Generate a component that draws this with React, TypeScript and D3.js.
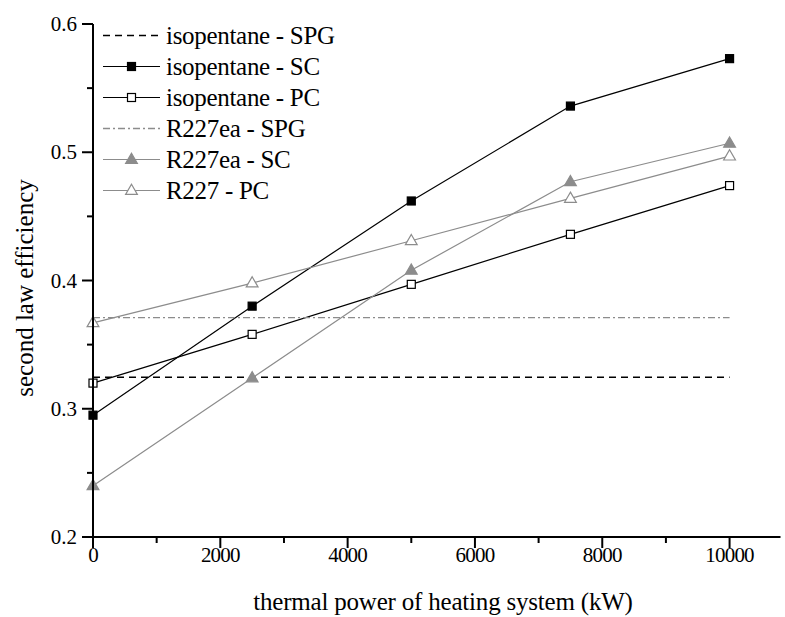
import React, { useEffect, useRef } from "react";
import * as d3 from "d3";

// thermal power of heating system (kW)
const power = [0, 2500, 5000, 7500, 10000];

// second law efficiency
const isoSPG = [0.3245, 0.3245, 0.3245, 0.3245, 0.3245];
const isoSC = [0.295, 0.38, 0.462, 0.536, 0.573];
const isoPC = [0.32, 0.358, 0.397, 0.436, 0.474];
const r227SPG = [0.371, 0.371, 0.371, 0.371, 0.371];
const r227SC = [0.24, 0.324, 0.408, 0.477, 0.507];
const r227PC = [0.367, 0.398, 0.431, 0.464, 0.497];

const xTicks = [0, 2000, 4000, 6000, 8000, 10000];
const xMinor = [1000, 3000, 5000, 7000, 9000];
const yTicks = [0.2, 0.3, 0.4, 0.5, 0.6];
const yMinor = [0.25, 0.35, 0.45, 0.55];

const GRAY = "#8c8c8c";

const series = [
  { name: "isopentane - SPG", values: isoSPG, color: "#000", dash: "7,5", marker: null, fill: null, width: 1.5 },
  { name: "isopentane - SC", values: isoSC, color: "#000", dash: null, marker: "square", fill: "#000", width: 1.2 },
  { name: "isopentane - PC", values: isoPC, color: "#000", dash: null, marker: "square", fill: "#fff", width: 1.2 },
  { name: "R227ea - SPG", values: r227SPG, color: GRAY, dash: "7,3,2,3", marker: null, fill: null, width: 1.3 },
  { name: "R227ea - SC", values: r227SC, color: GRAY, dash: null, marker: "triangle", fill: GRAY, width: 1.2 },
  { name: "R227 - PC", values: r227PC, color: GRAY, dash: null, marker: "triangle", fill: "#fff", width: 1.2 },
];

const App = () => {
  const svgRef = useRef<SVGSVGElement>(null);

  useEffect(() => {
    const svg = d3.select(svgRef.current);
    svg.selectAll("*").remove();

    const x = d3.scaleLinear().domain([0, 10800]).range([93, 780.5]);
    const y = d3.scaleLinear().domain([0.2, 0.6]).range([537, 24]);
    const font = "'Liberation Serif', 'Times New Roman', serif";

    const drawMarker = (g: any, s: any, cx: number, cy: number) => {
      if (s.marker === "square") {
        g.append("rect")
          .attr("x", cx - 4).attr("y", cy - 4)
          .attr("width", 8).attr("height", 8)
          .attr("fill", s.fill).attr("stroke", s.color).attr("stroke-width", 1.2);
      } else if (s.marker === "triangle") {
        g.append("path")
          .attr("d", d3.symbol(d3.symbolTriangle, 60)())
          .attr("transform", `translate(${cx},${cy + 0.5})`)
          .attr("fill", s.fill).attr("stroke", s.color).attr("stroke-width", 1.2);
      }
    };

    //data lines and markers
    const line = d3.line<number>()
      .x((d, i) => x(power[i]))
      .y(d => y(d));

    series.forEach(s => {
      const g = svg.append("g");
      g.append("path")
        .attr("d", line(s.values))
        .attr("fill", "none")
        .attr("stroke", s.color)
        .attr("stroke-width", s.width)
        .attr("stroke-dasharray", s.dash);
      if (s.marker) {
        s.values.forEach((v, i) => drawMarker(g, s, x(power[i]), y(v)));
      }
    });

    //axes
    const ax = svg.append("g").attr("stroke", "#000").attr("stroke-width", 2);
    ax.append("line").attr("x1", 82).attr("x2", 780.5).attr("y1", 537).attr("y2", 537);
    ax.append("line").attr("x1", 93).attr("x2", 93).attr("y1", 24).attr("y2", 548);
    xTicks.forEach(t => ax.append("line").attr("x1", x(t)).attr("x2", x(t)).attr("y1", 537).attr("y2", 548));
    xMinor.forEach(t => ax.append("line").attr("x1", x(t)).attr("x2", x(t)).attr("y1", 537).attr("y2", 543));
    yTicks.forEach(t => ax.append("line").attr("x1", 82).attr("x2", 93).attr("y1", y(t)).attr("y2", y(t)));
    yMinor.forEach(t => ax.append("line").attr("x1", 87).attr("x2", 93).attr("y1", y(t)).attr("y2", y(t)));

    svg.append("g").selectAll("text").data(xTicks).enter().append("text")
      .attr("x", d => x(d)).attr("y", 562)
      .attr("text-anchor", "middle")
      .attr("font-family", font).attr("font-size", 21)
      .attr("letter-spacing", -0.8)
      .text(d => String(d));

    svg.append("g").selectAll("text").data(yTicks).enter().append("text")
      .attr("x", 77).attr("y", d => y(d) + 7)
      .attr("text-anchor", "end")
      .attr("font-family", font).attr("font-size", 21)
      .text(d => d.toFixed(1));

    svg.append("text")
      .attr("x", 443).attr("y", 610)
      .attr("text-anchor", "middle")
      .attr("font-family", font).attr("font-size", 25)
      .attr("letter-spacing", -0.2)
      .text("thermal power of heating system (kW)");

    svg.append("text")
      .attr("transform", "translate(33,288) rotate(-90)")
      .attr("text-anchor", "middle")
      .attr("font-family", font).attr("font-size", 25)
      .text("second law efficiency");

    //legend
    const legend = svg.append("g");
    series.forEach((s, i) => {
      const cy = 35.5 + i * 31;
      const g = legend.append("g");
      g.append("line")
        .attr("x1", 103).attr("x2", 160).attr("y1", cy).attr("y2", cy)
        .attr("stroke", s.color).attr("stroke-width", s.width)
        .attr("stroke-dasharray", s.dash);
      drawMarker(g, s, 131.5, cy);
      g.append("text")
        .attr("x", 166).attr("y", cy + 8)
        .attr("font-family", font).attr("font-size", 25)
        .attr("letter-spacing", -0.3)
        .text(s.name);
    });
  }, []);

  return (
    <svg
      ref={svgRef}
      width={785}
      height={617}
      style={{ position: "absolute", left: 0, top: 0, background: "#fff" }}
    />
  );
};

export default App;
